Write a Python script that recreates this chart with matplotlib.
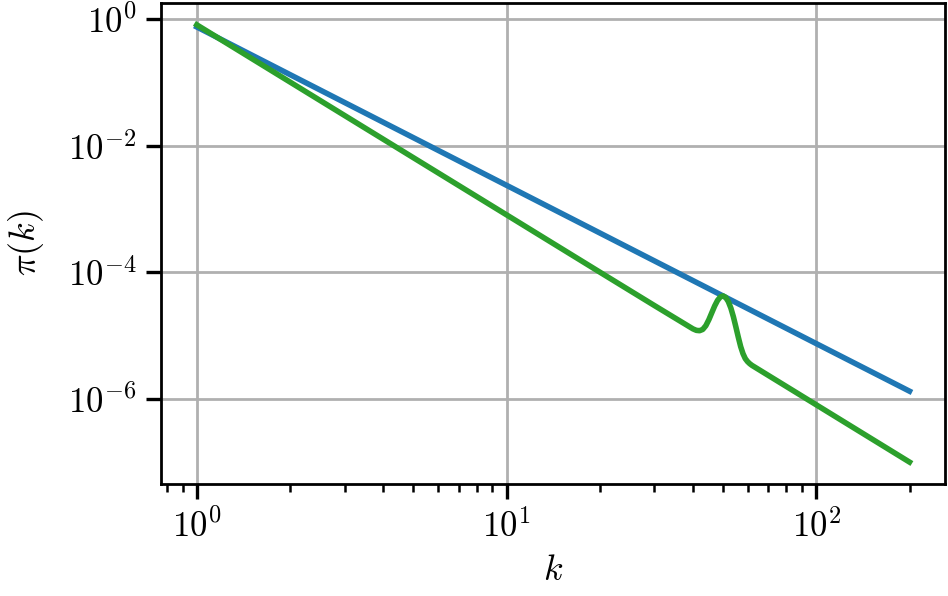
import numpy as np
import matplotlib
matplotlib.use("Agg")
import matplotlib.pyplot as plt
from matplotlib.ticker import NullLocator

plt.rcParams["font.family"] = "serif"
plt.rcParams["font.serif"] = ["cmr10"]
plt.rcParams["mathtext.fontset"] = "cm"
plt.rcParams["axes.formatter.use_mathtext"] = True

# values (log-log)
k_blue = [1, 10, 100, 200]
pi_blue = [0.75, 2.37e-3, 7.5e-6, 1.33e-6]

k_green = [1, 10, 20, 30, 40, 41, 42, 43, 44, 45, 46, 47, 48, 49, 50,
           51, 52, 53, 54, 55, 56, 57, 58, 59, 60, 61, 62, 100, 200]
pi_green = [0.81, 8.1e-4, 1.01e-4, 3.0e-5, 1.28e-5, 1.215e-5, 1.20e-5,
            1.256e-5, 1.44e-5, 1.79e-5, 2.31e-5, 2.96e-5, 3.61e-5, 4.09e-5,
            4.25e-5, 4.02e-5, 3.46e-5, 2.73e-5, 1.99e-5, 1.38e-5, 9.5e-6,
            6.74e-6, 5.2e-6, 4.34e-6, 3.9e-6, 3.61e-6, 3.40e-6, 8.1e-7,
            1.01e-7]

fig, ax = plt.subplots(figsize=(4.74, 2.98), dpi=200)
fig.subplots_adjust(left=0.170, right=0.997, top=0.995, bottom=0.188)

ax.plot(k_blue, pi_blue, color="tab:blue", linewidth=2)
ax.plot(k_green, pi_green, color="tab:green", linewidth=2)

ax.set_xscale("log")
ax.set_yscale("log")
ax.set_yticks([1e0, 1e-2, 1e-4, 1e-6])
ax.yaxis.set_minor_locator(NullLocator())

ax.grid(True, which="major", color="#b0b0b0", linewidth=1)
ax.set_axisbelow(True)
ax.tick_params(which="major", length=5.4, width=1.2, labelsize=12.5)
ax.tick_params(which="minor", length=3, width=0.9)
for s in ax.spines.values():
    s.set_linewidth(1)

ax.set_xlabel(r"$k$", fontsize=13)
ax.set_ylabel(r"$\pi(k)$", fontsize=13, labelpad=8)

fig.savefig("out.png", dpi=200)
